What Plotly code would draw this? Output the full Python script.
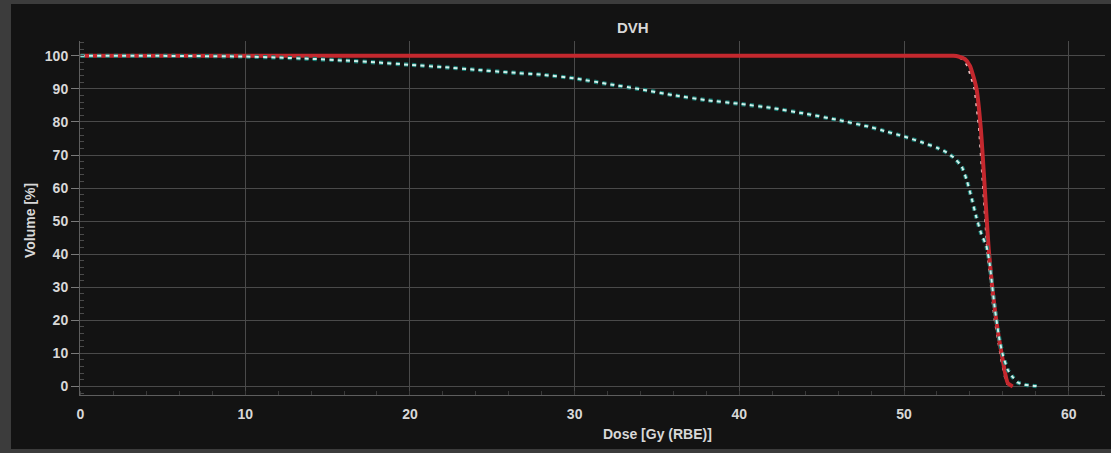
import plotly.graph_objects as go

# Dose-volume histogram data (dose in Gy (RBE), volume in %)
red_dose = [0, 10, 20, 30, 40, 50, 53.0, 53.3, 53.7, 54.0, 54.4, 54.66, 54.9, 55.15, 55.57, 55.99, 56.3, 56.6]
red_vol = [100, 100, 100, 100, 100, 100, 100, 99.8, 99, 97, 90, 78, 60, 41, 21, 8, 1, 0]

pale_dose = [0, 53.1, 53.55, 53.85, 54.28, 54.55, 54.8, 55.05, 55.47, 55.9, 56.2, 56.5]
pale_vol = [100, 100, 99, 97, 90, 78, 60, 41, 21, 8, 1, 0]

teal_dose = [0, 5, 10, 12, 14, 16, 18, 20, 22, 24, 26, 28, 30, 32, 34, 36, 38, 40, 42, 44, 46,
             48, 49, 50, 51, 52, 52.5, 53, 53.5, 53.8, 54.1, 54.4, 54.7, 55.0, 55.2, 55.5,
             55.8, 56.0, 56.3, 56.6, 56.9, 57.3, 57.8, 58.3]
teal_vol = [100, 100, 99.8, 99.5, 99.1, 98.6, 98.0, 97.3, 96.6, 95.8, 95.0, 94.3, 93.2, 91.5,
            89.9, 88.1, 86.6, 85.5, 84.2, 82.5, 80.6, 78.4, 77.0, 75.6, 74.0, 72.2, 71.0, 69.3,
            66.5, 62.5, 57.0, 51.0, 46.0, 42.5, 37.0, 24.0, 14.0, 9.5, 5.0, 2.8, 1.2, 0.5, 0.2, 0]

x_ticks = [0, 10, 20, 30, 40, 50, 60]
y_ticks = [0, 10, 20, 30, 40, 50, 60, 70, 80, 90, 100]

BG = "#131313"
FRAME = "#3c3c3c"
GRID = "#4a4a4a"
AXIS = "#5e5e5e"
TEXT = "#d8d8d8"
FONT = "Liberation Sans, Arial, sans-serif"

# Plot area in pixels
W, H = 1111, 453
ML, MR, MT, MB = 80, 6, 41, 58
PW = W - ML - MR
PH = H - MT - MB


def px_x(p):
    return (p - ML) / PW


def px_y(p):
    return (H - MB - p) / PH


fig = go.Figure()

# Pale dotted structure, lying just under the red curve
fig.add_trace(go.Scatter(
    x=pale_dose, y=pale_vol, mode="lines",
    line=dict(color="#f0c4c4", width=2, dash="3px,5.3px"),
    hoverinfo="skip", showlegend=False,
))

# Red structure: solid thick line
fig.add_trace(go.Scatter(
    x=red_dose, y=red_vol, mode="lines",
    line=dict(color="#c4282e", width=4, shape="spline", smoothing=0.6),
    hoverinfo="skip", showlegend=False,
))

# Teal dotted structure: teal halo with a light core
fig.add_trace(go.Scatter(
    x=teal_dose, y=teal_vol, mode="lines",
    line=dict(color="#177a72", width=4.2, dash="4px,4.3px", shape="spline", smoothing=0.5),
    hoverinfo="skip", showlegend=False,
))
fig.add_trace(go.Scatter(
    x=teal_dose, y=teal_vol, mode="lines",
    line=dict(color="#d2f0ea", width=2, dash="4px,4.3px", shape="spline", smoothing=0.5),
    hoverinfo="skip", showlegend=False,
))

axis_common = dict(
    showgrid=True, gridcolor=GRID, gridwidth=1,
    zeroline=False, showline=True, linecolor=AXIS, linewidth=1,
    tickfont=dict(family=FONT, size=14, color=TEXT, weight="bold"),
    fixedrange=True,
)

fig.update_xaxes(
    range=[-0.03, 62.2], tickvals=x_ticks,
    ticks="outside", ticklen=6, tickcolor=BG,
    minor=dict(ticks="inside", dtick=2, ticklen=4, tickcolor="#3a3a3a", showgrid=False),
    **axis_common,
)
fig.update_yaxes(
    range=[-2.6, 104.5], tickvals=y_ticks,
    ticks="outside", ticklen=8, tickcolor="#7a7a7a",
    minor=dict(ticks="inside", dtick=2, ticklen=4, tickcolor="#4a4a4a", showgrid=False),
    **axis_common,
)

fig.update_layout(
    width=W, height=H,
    margin=dict(l=ML, r=MR, t=MT, b=MB, pad=0),
    paper_bgcolor=FRAME, plot_bgcolor=BG,
    hovermode=False,
    shapes=[dict(
        type="rect", xref="paper", yref="paper", layer="below",
        x0=px_x(11), x1=px_x(W + 5), y0=px_y(449), y1=px_y(4),
        fillcolor=BG, line=dict(width=0),
    )],
    annotations=[
        dict(text="DVH", xref="paper", yref="paper", x=px_x(633), y=px_y(27),
             xanchor="center", yanchor="middle", showarrow=False,
             font=dict(family=FONT, size=15, color=TEXT, weight="bold")),
        dict(text="Dose [Gy (RBE)]", xref="paper", yref="paper", x=px_x(657), y=px_y(434),
             xanchor="center", yanchor="middle", showarrow=False,
             font=dict(family=FONT, size=14, color=TEXT, weight="bold")),
        dict(text="Volume [%]", xref="paper", yref="paper", x=px_x(30), y=px_y(221),
             xanchor="center", yanchor="middle", showarrow=False, textangle=-90,
             font=dict(family=FONT, size=14, color=TEXT, weight="bold")),
    ],
)

fig.write_html("out.html", config={"displayModeBar": False, "staticPlot": True})
